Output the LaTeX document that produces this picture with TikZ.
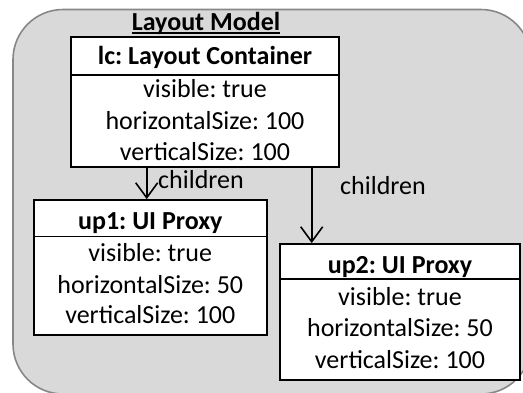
\documentclass[tikz,border=0pt]{standalone}
\usepackage{fontspec}
\setmainfont{Carlito}
\frenchspacing
\usetikzlibrary{arrows.meta}
\definecolor{panelfill}{HTML}{D9D9D9}
\definecolor{panelline}{HTML}{878787}
\tikzset{
  objbox/.style={draw=black, line width=1.8pt, fill=white},
  divider/.style={draw=black, line width=1.6pt},
  txt/.style={inner sep=0pt, anchor=base, font=\fontsize{26}{30}\selectfont},
  headtxt/.style={txt, font=\fontsize{26}{30}\selectfont\bfseries},
  link/.style={draw=black, line width=1.6pt, -{Straight Barb[length=15pt,width=22pt,line width=1.6pt]}},
}
\begin{document}
\begin{tikzpicture}[x=1pt,y=-1pt]
\useasboundingbox (0,0) rectangle (523,392);
% panel
\draw[panelline, fill=panelfill, line width=1.6pt, rounded corners=50pt] (13,9.5) rectangle (531,394);
\node[headtxt] (title) at (206,30.5) {Layout Model};
\draw[black, line width=1.3pt] ([yshift=-2.5pt]title.base west) -- ([yshift=-2.5pt]title.base east);

% layout container
\node[objbox, minimum width=268pt, minimum height=130pt, inner sep=0pt] (lc) at (205,102) {};
\draw[divider] (lc.west |- 0,75) -- (lc.east |- 0,75);
\node[headtxt] (lcH) at (205,64) {lc: Layout Container};
\node[txt] (lc1) at (205,97) {visible: true};
\node[txt] (lc2) at (205,129) {horizontalSize: 100};
\node[txt] (lc3) at (205,160.5) {verticalSize: 100};

% first proxy
\node[objbox, minimum width=233pt, minimum height=135pt, inner sep=0pt] (up1) at (150.3,267.5) {};
\draw[divider] (up1.west |- 0,236.5) -- (up1.east |- 0,236.5);
\node[headtxt] (up1H) at (150.3,229) {up1: UI Proxy};
\node[txt] (up11) at (150.3,261.5) {visible: true};
\node[txt] (up12) at (150.3,293) {horizontalSize: 50};
\node[txt] (up13) at (150.3,323) {verticalSize: 100};

% second proxy
\node[objbox, minimum width=240pt, minimum height=136pt, inner sep=0pt] (up2) at (400,312) {};
\draw[divider] (up2.west |- 0,279) -- (up2.east |- 0,279);
\node[headtxt] (up2H) at (400,273) {up2: UI Proxy};
\node[txt] (up21) at (400,305) {visible: true};
\node[txt] (up22) at (400,336.5) {horizontalSize: 50};
\node[txt] (up23) at (400,368) {verticalSize: 100};

% children links
\coordinate (s1) at (146.7,167);
\coordinate (s2) at (311.7,167);
\draw[link] (s1) -- (s1 |- up1.north);
\draw[link] (s2) -- (s2 |- up2.north);
\node[txt, anchor=base west] (c1) at (158,188.3) {children};
\node[txt, anchor=base west] (c2) at (340,194) {children};
\end{tikzpicture}
\end{document}
